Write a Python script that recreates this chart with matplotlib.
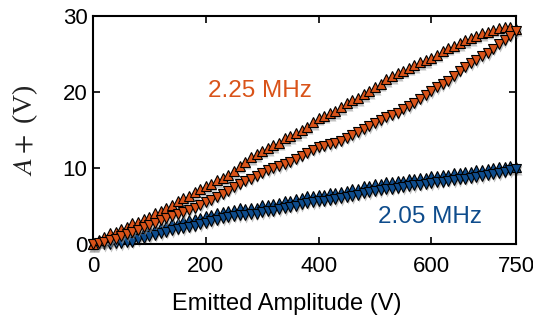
import matplotlib
matplotlib.use("Agg")
import matplotlib.pyplot as plt
import matplotlib.transforms as mtransforms

x = [0, 10, 20, 30, 40, 50, 60, 70, 80, 90,
     100, 110, 120, 130, 140, 150, 160, 170, 180, 190,
     200, 210, 220, 230, 240, 250, 260, 270, 280, 290,
     300, 310, 320, 330, 340, 350, 360, 370, 380, 390,
     400, 410, 420, 430, 440, 450, 460, 470, 480, 490,
     500, 510, 520, 530, 540, 550, 560, 570, 580, 590,
     600, 610, 620, 630, 640, 650, 660, 670, 680, 690,
     700, 710, 720, 730, 740, 750]

orange_up = [0.0, 0.5, 0.9, 1.4, 1.6, 2.0, 2.3, 2.7, 2.9, 3.3,
             3.6, 4.1, 4.4, 4.8, 5.1, 5.6, 6.0, 6.3, 6.8, 7.3,
             7.6, 7.9, 8.4, 8.7, 9.1, 9.6, 10.3, 10.8, 11.4, 11.8,
             12.3, 12.6, 13.0, 13.3, 13.9, 14.2, 14.6, 15.0, 15.4, 16.0,
             16.6, 16.9, 17.2, 17.5, 18.0, 18.5, 18.9, 19.2, 19.7, 20.1,
             20.6, 21.1, 21.7, 22.1, 22.5, 22.8, 23.2, 23.5, 23.9, 24.2,
             24.5, 24.9, 25.4, 25.8, 26.1, 26.4, 26.8, 27.1, 27.4, 27.7,
             27.9, 28.2, 28.4, 28.5, 28.6, 28.3]

orange_down = [0.0, 0.1, 0.3, 0.5, 0.7, 1.0, 1.3, 1.6, 1.9, 2.2,
               2.5, 2.8, 3.1, 3.4, 3.7, 3.9, 4.2, 4.5, 4.8, 5.1,
               5.5, 5.8, 6.2, 6.6, 7.0, 7.5, 7.9, 8.3, 8.6, 9.0,
               9.4, 9.7, 10.0, 10.2, 10.5, 10.8, 11.2, 11.6, 12.0, 12.4,
               12.7, 12.9, 13.1, 13.3, 13.6, 14.0, 14.3, 14.7, 15.1, 15.5,
               15.9, 16.3, 16.7, 17.0, 17.3, 17.7, 18.1, 18.6, 19.1, 19.6,
               20.1, 20.6, 21.0, 21.4, 22.1, 22.8, 23.3, 23.8, 24.2, 24.7,
               25.1, 25.7, 26.3, 26.8, 27.4, 28.0]

blue_up = [0.0, 0.4, 0.5, 0.7, 0.8, 1.0, 1.0, 1.3, 1.4, 1.6,
           1.9, 2.0, 2.3, 2.4, 2.7, 2.8, 3.0, 3.1, 3.3, 3.4,
           3.7, 3.8, 4.1, 4.2, 4.4, 4.5, 4.7, 4.6, 4.8, 4.8,
           5.1, 5.1, 5.3, 5.4, 5.6, 5.7, 5.9, 6.0, 6.3, 6.3,
           6.5, 6.5, 6.7, 6.7, 6.9, 7.0, 7.2, 7.3, 7.6, 7.6,
           7.9, 7.9, 8.1, 8.1, 8.3, 8.3, 8.5, 8.5, 8.7, 8.7,
           8.9, 8.9, 9.1, 9.1, 9.3, 9.3, 9.5, 9.5, 9.7, 9.7,
           9.9, 10.0, 10.1, 10.1, 10.2, 10.1]

blue_down = [0.0, 0.0, 0.0, 0.0, 0.1, 0.1, 0.2, 0.3, 0.6, 0.8,
             1.0, 1.2, 1.4, 1.6, 1.8, 2.0, 2.1, 2.3, 2.4, 2.6,
             2.8, 3.0, 3.2, 3.4, 3.5, 3.7, 3.8, 3.8, 3.9, 4.0,
             4.2, 4.3, 4.4, 4.6, 4.7, 4.9, 5.0, 5.2, 5.4, 5.5,
             5.6, 5.7, 5.8, 5.9, 6.0, 6.2, 6.3, 6.5, 6.7, 6.8,
             7.0, 7.1, 7.2, 7.3, 7.4, 7.5, 7.6, 7.7, 7.8, 7.9,
             8.0, 8.1, 8.2, 8.3, 8.4, 8.5, 8.6, 8.7, 8.8, 8.9,
             9.1, 9.2, 9.3, 9.5, 9.7, 9.9]

x_ticks = [0, 200, 400, 600, 750]
y_ticks = [0, 10, 20, 30]
label_orange = "2.25 MHz"
label_blue = "2.05 MHz"

ORANGE = "#D95319"
BLUE = "#0E4C8C"

plt.rcParams['font.family'] = ['Liberation Sans', 'DejaVu Sans']
plt.rcParams['mathtext.fontset'] = 'stix'

fig = plt.figure(figsize=(5.33, 3.2), dpi=100)
ax = fig.add_axes([0.1745, 0.2375, 0.7935, 0.7125])

ms = 7
mew = 0.8
shadow = mtransforms.offset_copy(ax.transData, fig=fig, x=0.6, y=-1.8, units='points')
series = [(blue_up, '^', BLUE, 3), (blue_down, 'v', BLUE, 3),
          (orange_up, '^', ORANGE, 5), (orange_down, 'v', ORANGE, 5)]
for yv, mk, col, z in series:
    ax.plot(x, yv, linestyle='none', marker=mk, ms=ms, mfc='#9a9a9a', mec='none',
            alpha=0.6, transform=shadow, clip_on=False, zorder=z - 1)
    ax.plot(x, yv, linestyle='none', marker=mk, ms=ms, mfc=col, mec='black',
            mew=mew, clip_on=False, zorder=z)

ax.text(204, 20.1, label_orange, color=ORANGE, fontsize=17.5, va='center', ha='left')
ax.text(505, 3.6, label_blue, color=BLUE, fontsize=17.5, va='center', ha='left')

ax.set_xlim(0, 750)
ax.set_ylim(0, 30)
ax.set_xticks(x_ticks)
ax.set_yticks(y_ticks)
ax.tick_params(direction='in', length=5, width=1.2, labelsize=16,
               top=True, right=True)
ax.tick_params(axis='x', pad=9)
ax.tick_params(axis='y', pad=4)
for s in ax.spines.values():
    s.set_linewidth(1.5)

ax.set_xlabel("Emitted Amplitude (V)", fontsize=17)
ax.xaxis.set_label_coords(0.459, -0.215)
ax.set_ylabel(r"$A +$ (V)", fontsize=20, family='Liberation Serif', color='#222222')
ax.yaxis.set_label_coords(-0.125, 0.5)

fig.savefig("out.png", dpi=100)
